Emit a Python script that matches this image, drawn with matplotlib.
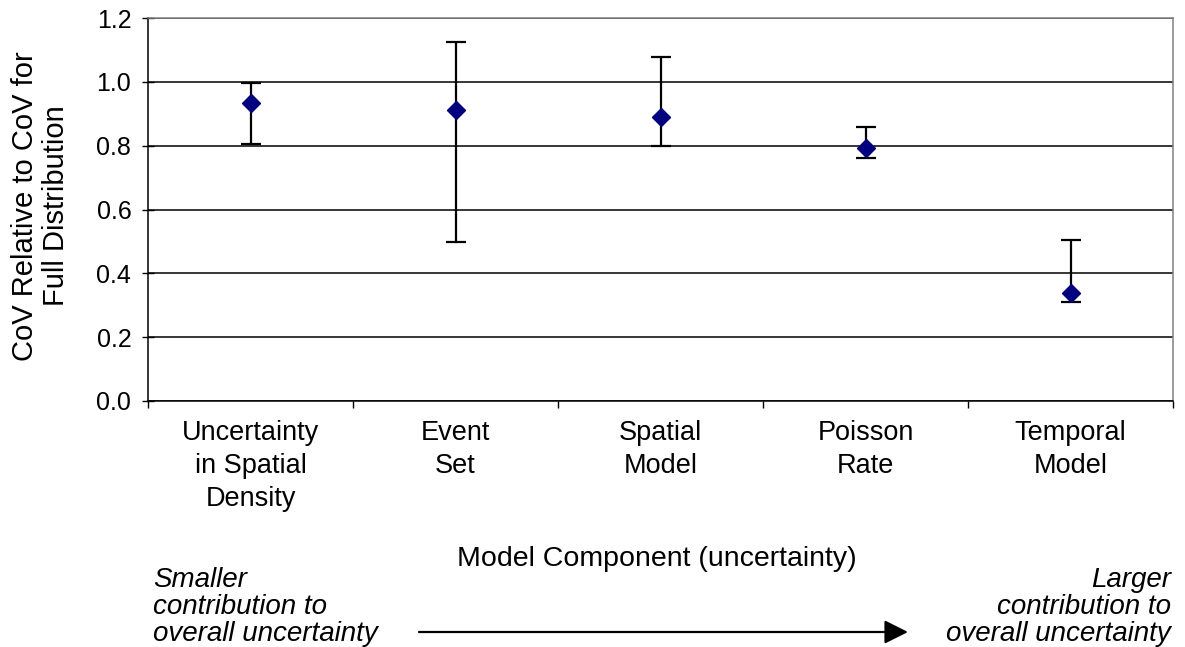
import matplotlib
matplotlib.use("Agg")
import matplotlib.pyplot as plt
from matplotlib.patches import FancyArrowPatch
import numpy as np

plt.rcParams['font.family'] = ['Liberation Sans', 'DejaVu Sans']

# Model components and their relative CoV with error ranges
components = ["Uncertainty\nin Spatial\nDensity", "Event\nSet", "Spatial\nModel",
              "Poisson\nRate", "Temporal\nModel"]
cov_mid = [0.935, 0.913, 0.891, 0.794, 0.337]
cov_low = [0.806, 0.497, 0.800, 0.762, 0.309]
cov_high = [0.996, 1.124, 1.079, 0.859, 0.505]
y_ticks = [0.0, 0.2, 0.4, 0.6, 0.8, 1.0, 1.2]

W, H = 1185, 647
fig = plt.figure(figsize=(W / 100, H / 100), dpi=100)
ax = fig.add_axes([148 / W, 1 - 401 / H, (1173 - 148) / W, (401 - 18) / H])

x = np.arange(len(components))
mid = np.array(cov_mid)
err = np.vstack([mid - np.array(cov_low), np.array(cov_high) - mid])

ax.errorbar(x, mid, yerr=err, fmt='none', ecolor='black', elinewidth=1.6,
            capsize=7, capthick=1.6, zorder=3)
ax.plot(x, mid, linestyle='none', marker='D', markersize=9,
        color='#000080', zorder=4)

ax.set_xlim(-0.5, len(components) - 0.5)
ax.set_ylim(0, 1.2)
ax.set_yticks(y_ticks)
ax.set_yticklabels([f"{v:.1f}" for v in y_ticks], fontsize=18)
ax.yaxis.grid(True, color='black', linewidth=1.1)
ax.set_axisbelow(True)

ax.set_xticks(x)
ax.set_xticklabels(components, fontsize=19.5, linespacing=1.33)
ax.set_xticks(np.arange(len(components) + 1) - 0.5, minor=True)
ax.tick_params(axis='x', which='major', length=0, pad=14)
ax.tick_params(axis='x', which='minor', length=5, width=1, direction='out')
ax.tick_params(axis='y', direction='inout', length=8, width=1, pad=8)

for side in ('left', 'bottom'):
    ax.spines[side].set_color('black')
    ax.spines[side].set_linewidth(1.1)
for side in ('top', 'right'):
    ax.spines[side].set_color('#808080')
    ax.spines[side].set_linewidth(1.1)

ax.set_ylabel("CoV Relative to CoV for\nFull Distribution", fontsize=21,
              linespacing=1.12)
ax.yaxis.set_label_coords((70 - 148) / (1173 - 148), 0.51)

# Axis title and direction annotations below the plot
fig.text(657 / W, 1 - 559 / H, "Model Component (uncertainty)", fontsize=20.5,
         ha='center', va='center')
fig.text(153 / W, 1 - 607 / H,
         "Smaller\ncontribution to\noverall uncertainty",
         fontsize=20, style='italic', ha='left', va='center', linespacing=1.04)
fig.text(1171 / W, 1 - 607 / H,
         "Larger\ncontribution to\noverall uncertainty",
         fontsize=20, style='italic', ha='right', va='center', linespacing=1.04,
         multialignment='right')

arrow = FancyArrowPatch((419 / W, 1 - 632 / H), (908 / W, 1 - 632 / H),
                        transform=fig.transFigure,
                        arrowstyle='-|>,head_length=0.9,head_width=0.45',
                        mutation_scale=16, linewidth=1.6, color='black',
                        shrinkA=0, shrinkB=0)
fig.add_artist(arrow)

fig.savefig("out.png", dpi=100, facecolor='white')
